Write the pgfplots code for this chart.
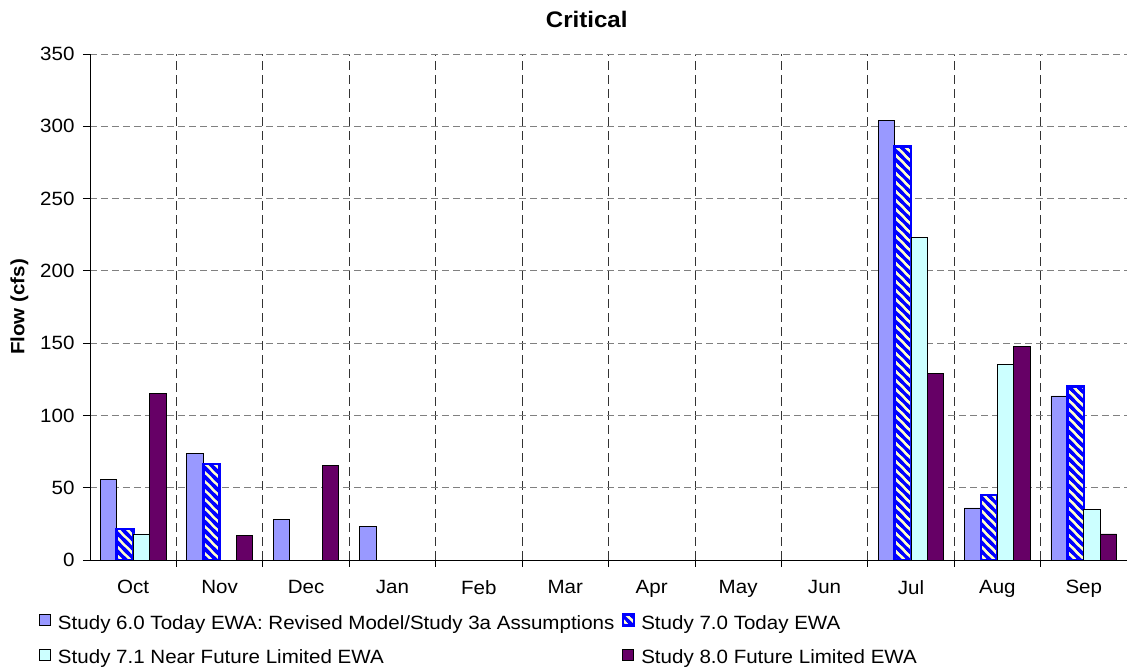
\documentclass[border=0pt]{standalone}
\usepackage{pgfplots}
\pgfplotsset{compat=1.18}
\usepackage{fontspec}
\setmainfont{Liberation Sans}[FakeStretch=1.07]
\usetikzlibrary{patterns}

\definecolor{sixzero}{HTML}{9999FF}
\definecolor{sevenzero}{HTML}{FFFFCC}
\definecolor{sevenone}{HTML}{CCFFFF}
\definecolor{eightzero}{HTML}{660066}

% wide diagonal stripes, like the Excel hatch
\pgfdeclarepatternformonly{ewahatch}{\pgfqpoint{-3pt}{-3pt}}{\pgfqpoint{12pt}{12pt}}{\pgfqpoint{9pt}{9pt}}{
  \pgfsetlinewidth{3.2pt}
  \pgfpathmoveto{\pgfqpoint{-3pt}{12pt}}\pgfpathlineto{\pgfqpoint{12pt}{-3pt}}
  \pgfpathmoveto{\pgfqpoint{-3pt}{3pt}}\pgfpathlineto{\pgfqpoint{3pt}{-3pt}}
  \pgfpathmoveto{\pgfqpoint{6pt}{12pt}}\pgfpathlineto{\pgfqpoint{12pt}{6pt}}
  \pgfusepath{stroke}}

\begin{document}
\begin{tikzpicture}
\begin{axis}[
    scale only axis,
    width=1037pt, height=506pt,
    xmin=0, xmax=12,
    ymin=0, ymax=350,
    ytick={0,50,...,350},
    xtick={0.5,1.5,...,11.5},
    xticklabels={Oct,Nov,Dec,Jan,Feb,Mar,Apr,May,Jun,Jul,Aug,Sep},
    minor xtick={1,2,...,11},
    major x tick style={draw=none},
    minor x tick style={black, line width=0.8pt},
    extra x ticks={12},
    extra x tick labels={},
    extra x tick style={grid=none, major x tick style={black, line width=0.8pt}},
    tick align=outside,
    major tick length=7pt, minor tick length=7pt,
    y tick style={black, line width=0.8pt},
    axis x line*=bottom, axis y line*=left,
    axis line style={black, line width=0.9pt, -},
    ymajorgrids, xminorgrids,
    major grid style={gray, line width=0.9pt, dash pattern=on 7pt off 4pt},
    minor grid style={black!80, line width=0.8pt, dash pattern=on 9pt off 5pt},
    /pgf/number format/assume math mode=true,
    tick label style={font=\fontsize{19.2}{22}\selectfont},
    yticklabel style={xshift=-5pt},
    xticklabel style={yshift=-10pt},
    ylabel={\bfseries Flow (cfs)},
    ylabel style={font=\fontsize{19.2}{22}\selectfont, yshift=5pt},
    title={\bfseries Critical},
    title style={font=\fontsize{22.5}{26}\selectfont, at={(0.479,1)}, yshift=17pt},
    ybar, bar width=0.19,
    legend columns=2,
    legend cell align=left,
    legend style={draw=none, fill=none, at={(0,0)}, anchor=north west,
        xshift=-51pt, yshift=-54pt,
        font=\fontsize{19.2}{22}\selectfont,
        nodes={inner sep=0pt, text height=14pt, text depth=4pt},
        /tikz/every odd column/.append style={column sep=7pt},
        /tikz/every even column/.append style={column sep=8pt},
        row sep=15pt, inner sep=0pt},
    legend image code/.code={\draw[#1, line width=0.8pt] (0pt,-1pt) rectangle (11pt,10pt);},
]
\addplot[fill=sixzero, draw=black, line width=0.8pt, bar shift=-0.285]
    coordinates {(0.5,56) (1.5,74) (2.5,28) (3.5,23.5) (9.5,304) (10.5,36) (11.5,113.5)};
\addplot[draw=blue, line width=2.6pt, bar shift=-0.095,
    preaction={fill=sevenzero}, pattern=ewahatch, pattern color=blue]
    coordinates {(0.5,21.5) (1.5,66.5) (9.5,286) (10.5,45) (11.5,120)};
\addplot[fill=sevenone, draw=black, line width=0.8pt, bar shift=0.095]
    coordinates {(0.5,18) (9.5,223) (10.5,135) (11.5,35)};
\addplot[fill=eightzero, draw=black, line width=0.8pt, bar shift=0.285]
    coordinates {(0.5,115) (1.5,17) (2.5,65.5) (9.5,129) (10.5,148) (11.5,18)};
\legend{Study 6.0 Today EWA: Revised Model/Study 3a Assumptions, Study 7.0 Today EWA, Study 7.1 Near Future Limited EWA, Study 8.0 Future Limited EWA}
\coordinate (ll) at (rel axis cs:0,0);
\coordinate (ur) at (rel axis cs:1,1);
\end{axis}
\pgfresetboundingbox
\path ([xshift=-90pt,yshift=-108pt]ll) rectangle ([xshift=3pt,yshift=54pt]ur);
\end{tikzpicture}
\end{document}
